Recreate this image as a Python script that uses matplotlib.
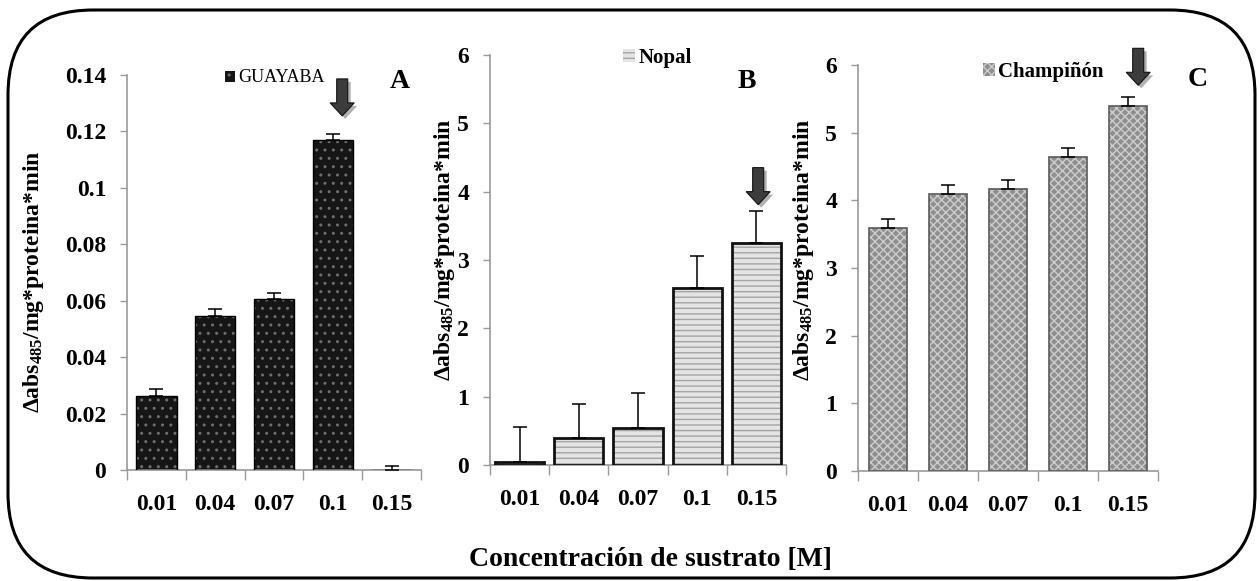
import numpy as np
import matplotlib.pyplot as plt
import matplotlib.transforms as mtransforms
from matplotlib.patches import FancyBboxPatch, Polygon

plt.rcParams['font.family'] = ['Liberation Serif', 'DejaVu Serif']
plt.rcParams['mathtext.fontset'] = 'custom'
plt.rcParams['mathtext.rm'] = 'Liberation Serif:bold'
plt.rcParams['mathtext.default'] = 'rm'
plt.rcParams['hatch.linewidth'] = 1.0

# Datos: actividad por concentración de sustrato
concentraciones = ['0.01', '0.04', '0.07', '0.1', '0.15']

guayaba = [0.0262, 0.0546, 0.0606, 0.1170, 0.0]
guayaba_err = [0.0025, 0.0025, 0.0021, 0.0020, 0.0015]
guayaba_ticks = [0, 0.02, 0.04, 0.06, 0.08, 0.10, 0.12, 0.14]
guayaba_labels = ['0', '0.02', '0.04', '0.06', '0.08', '0.1', '0.12', '0.14']

nopal = [0.05, 0.39, 0.54, 2.59, 3.25]
nopal_err = [0.51, 0.50, 0.51, 0.47, 0.47]

champinon = [3.59, 4.10, 4.17, 4.64, 5.39]
champinon_err = [0.13, 0.12, 0.13, 0.13, 0.13]

entero_ticks = [0, 1, 2, 3, 4, 5, 6]
entero_labels = ['0', '1', '2', '3', '4', '5', '6']

ylabel = r'Δabs$_{485}$/mg*proteina*min'
GRIS_EJE = '#9a9a9a'

fig = plt.figure(figsize=(12.6, 5.81), dpi=100)


def px_rect(x0, y_top, x1, y_bot):
    """Rectángulo de ejes a partir de píxeles (origen arriba-izquierda)"""
    W, H = 1260, 581
    return [x0 / W, (H - y_bot) / H, (x1 - x0) / W, (y_bot - y_top) / H]


def draw_bars(ax, valores, errores, ancho, cara, trama, patron, borde, lw_borde):
    x = np.arange(len(valores))
    # relleno con trama (el color de la trama sale del edgecolor)
    ax.bar(x, valores, width=ancho, color=cara, edgecolor=trama,
           hatch=patron, linewidth=0, zorder=2)
    # contorno
    ax.bar(x, valores, width=ancho, fill=False, edgecolor=borde,
           linewidth=lw_borde, zorder=3)
    ax.errorbar(x, valores, yerr=[np.zeros(len(valores)), errores],
                fmt='none', ecolor='black', elinewidth=1.1, capsize=5,
                capthick=1.1, zorder=4)


def style_axes(ax, ylim, yticks, ylabels, fs):
    ax.set_xlim(-0.5, 4.5)
    ax.set_ylim(*ylim)
    ax.set_yticks(yticks)
    ax.set_yticklabels(ylabels, fontsize=fs, fontweight='bold')
    ax.set_xticks(range(len(concentraciones)))
    ax.set_xticklabels(concentraciones, fontsize=fs, fontweight='bold')
    ax.set_xticks(np.arange(-0.5, 5, 1), minor=True)
    ax.tick_params(axis='x', which='major', length=0, pad=17)
    ax.tick_params(axis='x', which='minor', length=7, width=1,
                   color=GRIS_EJE, direction='out')
    ax.tick_params(axis='y', length=5, width=1, color=GRIS_EJE, pad=10)
    for lado in ('top', 'right'):
        ax.spines[lado].set_visible(False)
    for lado in ('left', 'bottom'):
        ax.spines[lado].set_color(GRIS_EJE)
        ax.spines[lado].set_linewidth(1.2)


# flecha hacia abajo, en pulgadas respecto a la punta
FLECHA = [(-0.055, 0.37), (0.055, 0.37), (0.055, 0.13), (0.12, 0.13),
          (0.0, 0.0), (-0.12, 0.13), (-0.055, 0.13)]


def draw_arrow(ax, x, y_punta):
    base = fig.dpi_scale_trans + mtransforms.ScaledTranslation(x, y_punta, ax.transData)
    sombra = base + mtransforms.Affine2D().translate(3, -3)
    ax.add_patch(Polygon(FLECHA, closed=True, transform=sombra,
                         facecolor='#b0b0b0', edgecolor='none', clip_on=False, zorder=5))
    ax.add_patch(Polygon(FLECHA, closed=True, transform=base,
                         facecolor='#3c3c3c', edgecolor='#111111', lw=0.8,
                         clip_on=False, zorder=6))


# ---- A: guayaba
axA = fig.add_axes(px_rect(127, 75, 421, 470))
draw_bars(axA, guayaba, guayaba_err, 0.69, '#161616', '#6e6e6e', '..', '#000000', 1.0)
style_axes(axA, (0, 0.14), guayaba_ticks, guayaba_labels, 17)
draw_arrow(axA, 3.16, 0.1255)
axA.legend([axA.patches[0]], ['GUAYABA'], loc='center left',
           bbox_to_anchor=(209 / 1260, 1 - 78 / 581),
           bbox_transform=fig.transFigure, frameon=False,
           handlelength=0.55, handleheight=0.55, handletextpad=0.15,
           prop={'size': 13})

# ---- B: nopal
axB = fig.add_axes(px_rect(490, 55, 786, 465))
draw_bars(axB, nopal, nopal_err, 0.83, '#e4e4e4', '#a4a4a4', '---', '#111111', 2.0)
style_axes(axB, (0, 6), entero_ticks, entero_labels, 17)
draw_arrow(axB, 4.03, 3.81)
axB.legend([axB.patches[0]], ['Nopal'], loc='center left',
           bbox_to_anchor=(604 / 1260, 1 - 58 / 581),
           bbox_transform=fig.transFigure, frameon=False,
           handlelength=0.6, handleheight=0.6, handletextpad=0.15,
           prop={'size': 15, 'weight': 'bold'})

# ---- C: champiñón
axC = fig.add_axes(px_rect(858, 65, 1158, 471))
draw_bars(axC, champinon, champinon_err, 0.63, '#8e8e8e', '#cdcdcd', 'xxxx', '#5a5a5a', 1.2)
style_axes(axC, (0, 6), entero_ticks, entero_labels, 17)
draw_arrow(axC, 4.17, 5.70)
axC.legend([axC.patches[0]], ['Champiñón'], loc='center left',
           bbox_to_anchor=(964 / 1260, 1 - 72 / 581),
           bbox_transform=fig.transFigure, frameon=False,
           handlelength=0.6, handleheight=0.6, handletextpad=0.15,
           prop={'size': 15, 'weight': 'bold'})

# etiquetas de eje y letras de panel
for x_px, y_px in ((34, 282), (444, 250), (803, 250)):
    fig.text(x_px / 1260, 1 - y_px / 581, ylabel, rotation=90, ha='center',
             va='center', fontsize=17, fontweight='bold')
for letra, x_px, y_px in (('A', 400, 82), ('B', 747, 82), ('C', 1198, 80)):
    fig.text(x_px / 1260, 1 - y_px / 581, letra, ha='center', va='center',
             fontsize=20, fontweight='bold')

fig.text(650 / 1260, 1 - 560 / 581, 'Concentración de sustrato [M]',
         ha='center', va='center', fontsize=20, fontweight='bold')

# marco redondeado
marco = FancyBboxPatch((0.08, 0.03), 12.47, 5.68,
                       boxstyle='round,pad=0,rounding_size=0.85',
                       transform=fig.dpi_scale_trans, fill=False,
                       edgecolor='black', linewidth=2.2)
fig.add_artist(marco)

fig.savefig('out.png', dpi=100)
